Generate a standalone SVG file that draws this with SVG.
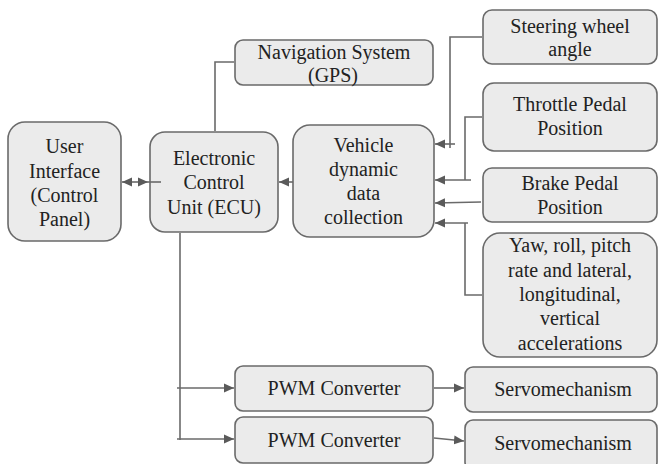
<svg xmlns="http://www.w3.org/2000/svg" width="659" height="464" viewBox="0 0 659 464">
<defs>
<style>
.box{fill:#ebebeb;stroke:#6a6a6a;stroke-width:1.6}
.t{font-family:"Liberation Serif","Times New Roman",serif;font-size:20px;fill:#222;text-anchor:middle}
.c{fill:none;stroke:#6a6a6a;stroke-width:1.6}
.a{marker-end:url(#ah)}
</style>
<marker id="ah" viewBox="0 0 10 10" refX="10" refY="5" markerWidth="10" markerHeight="10" markerUnits="userSpaceOnUse" orient="auto">
<path d="M0,0.5 L10,5 L0,9.5 Z" fill="#5a5a5a"/>
</marker>
<marker id="ahs" viewBox="0 0 10 10" refX="0" refY="5" markerWidth="10" markerHeight="10" markerUnits="userSpaceOnUse" orient="auto">
<path d="M10,0.5 L0,5 L10,9.5 Z" fill="#5a5a5a"/>
</marker>
</defs>
<rect width="659" height="464" fill="#ffffff"/>
<g id="user-interface">
<rect class="box" x="8" y="122" width="113" height="119" rx="17"/>
<text class="t" x="64.5" y="153">User</text>
<text class="t" x="64.5" y="178">Interface</text>
<text class="t" x="64.5" y="202">(Control</text>
<text class="t" x="64.5" y="226">Panel)</text>
</g>
<g id="ecu">
<rect class="box" x="150" y="132" width="128" height="100" rx="15"/>
<text class="t" x="214" y="165">Electronic</text>
<text class="t" x="214" y="189">Control</text>
<text class="t" x="214" y="214">Unit (ECU)</text>
</g>
<g id="navigation">
<rect class="box" x="235" y="40" width="198" height="45" rx="8"/>
<text class="t" x="334" y="59">Navigation System</text>
<text class="t" x="333" y="82">(GPS)</text>
</g>
<g id="vehicle-data">
<rect class="box" x="293" y="125" width="141" height="112" rx="17"/>
<text class="t" x="363.5" y="152">Vehicle</text>
<text class="t" x="363.5" y="176">dynamic</text>
<text class="t" x="363.5" y="200">data</text>
<text class="t" x="363.5" y="224">collection</text>
</g>
<g id="steering">
<rect class="box" x="483" y="10" width="174" height="54" rx="9"/>
<text class="t" x="570" y="33">Steering wheel</text>
<text class="t" x="570" y="56">angle</text>
</g>
<g id="throttle">
<rect class="box" x="483" y="83" width="174" height="68" rx="11"/>
<text class="t" x="570" y="111">Throttle Pedal</text>
<text class="t" x="570" y="135">Position</text>
</g>
<g id="brake">
<rect class="box" x="483" y="168" width="174" height="54" rx="9"/>
<text class="t" x="570" y="190">Brake Pedal</text>
<text class="t" x="570" y="214">Position</text>
</g>
<g id="imu">
<rect class="box" x="483" y="233" width="174" height="124" rx="17"/>
<text class="t" x="570" y="252">Yaw, roll, pitch</text>
<text class="t" x="570" y="277">rate and lateral,</text>
<text class="t" x="570" y="301">longitudinal,</text>
<text class="t" x="570" y="325">vertical</text>
<text class="t" x="570" y="350">accelerations</text>
</g>
<g id="pwm1">
<rect class="box" x="235" y="366" width="198" height="45" rx="8"/>
<text class="t" x="334" y="395">PWM Converter</text>
</g>
<g id="pwm2">
<rect class="box" x="235" y="417" width="198" height="46" rx="8"/>
<text class="t" x="334" y="447">PWM Converter</text>
</g>
<g id="servo1">
<rect class="box" x="465" y="367" width="192" height="45" rx="8"/>
<text class="t" x="563" y="396">Servomechanism</text>
</g>
<g id="servo2">
<rect class="box" x="465" y="420" width="192" height="50" rx="8"/>
<text class="t" x="563" y="450">Servomechanism</text>
</g>
<g id="connectors">
<path class="c a" d="M122,182 H148" marker-start="url(#ahs)"/>
<path class="c" d="M148,182 H161"/>
<path class="c" d="M215,131 V62 H234"/>
<path class="c a" d="M293,182 H279"/>
<path class="c" d="M482,37 H450 V148"/>
<path class="c a" d="M455,144 H435"/>
<path class="c" d="M482,117 H465 V180"/>
<path class="c a" d="M471,180 H435"/>
<path class="c a" d="M481,202 L435,203"/>
<path class="c" d="M482,295 H465 V223"/>
<path class="c a" d="M468,223 H435"/>
<path class="c" d="M180,233 V440"/>
<path class="c a" d="M177,388 H234"/>
<path class="c a" d="M177,439 H234"/>
<path class="c a" d="M434,388 H464"/>
<path class="c a" d="M434,438 L464,441"/>
</g>
</svg>
